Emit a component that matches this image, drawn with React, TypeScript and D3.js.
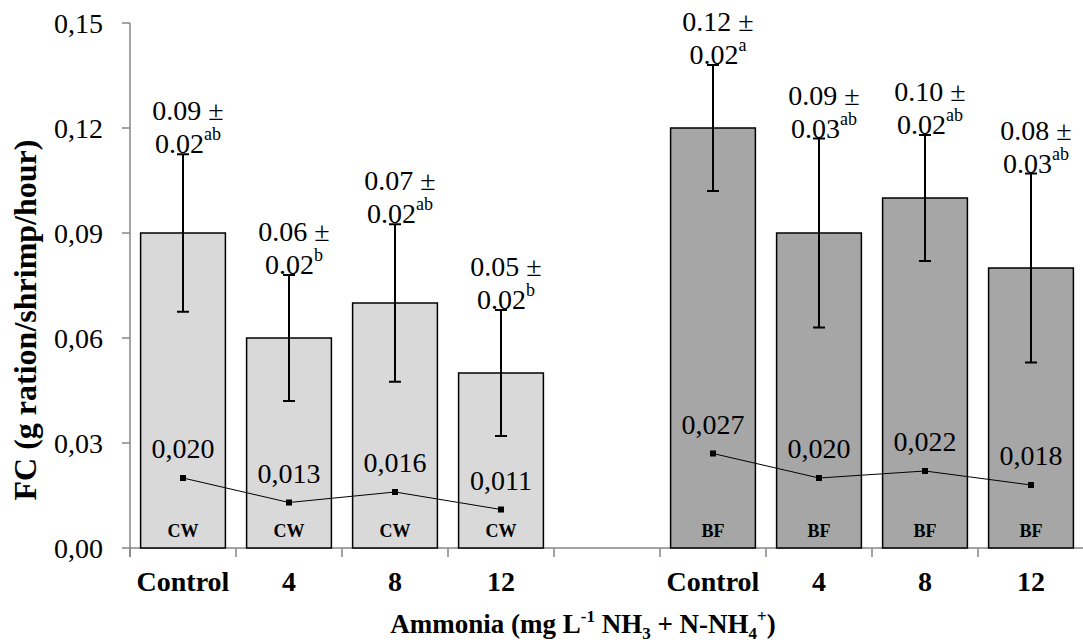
import React from 'react';
import * as d3 from 'd3';

const groups = ['CW', 'BF'];
const doses = ['Control', '4', '8', '12'];
const fcMean = { CW: [0.09, 0.06, 0.07, 0.05], BF: [0.12, 0.09, 0.1, 0.08] };
const fcErr = { CW: [0.0225, 0.018, 0.0225, 0.018], BF: [0.018, 0.027, 0.018, 0.027] };
const sdText = { CW: ['0.02', '0.02', '0.02', '0.02'], BF: ['0.02', '0.03', '0.02', '0.03'] };
const letters = { CW: ['ab', 'b', 'ab', 'b'], BF: ['a', 'ab', 'ab', 'ab'] };
const lineVals = { CW: [0.02, 0.013, 0.016, 0.011], BF: [0.027, 0.02, 0.022, 0.018] };
const yTicks = [0, 0.03, 0.06, 0.09, 0.12, 0.15];

const fills = { CW: '#d9d9d9', BF: '#a6a6a6' };
const FONT = "'Liberation Serif', 'Times New Roman', serif";

const W = 1083;
const H = 643;
const left = 130;
const right = 1084;
const top = 23;
const bottom = 548;

// 9 slots: 4 CW, empty gap, 4 BF
const slots = [...doses.map(d => 'CW-' + d), 'gap', ...doses.map(d => 'BF-' + d)];

export default function App() {
  const x = d3.scaleBand<string>().domain(slots).range([left, right]).paddingInner(0.2).paddingOuter(0.1);
  const y = d3.scaleLinear().domain([0, 0.15]).range([bottom, top]);
  const step = x.step();
  const fmt = (v: number) => d3.format('.2f')(v).replace('.', ',');
  const fmt3 = (v: number) => d3.format('.3f')(v).replace('.', ',');
  const cx = (key: string) => (x(key) as number) + x.bandwidth() / 2;

  return (
    <svg width={W} height={H} style={{ position: 'absolute', left: 0, top: 0, background: '#fff', fontFamily: FONT }}>
      {/* y axis */}
      <line x1={left} x2={left} y1={top} y2={bottom + 9} stroke="#868686" strokeWidth={1.5} />
      {yTicks.map(t => (
        <g key={t}>
          <line x1={left - 8} x2={left} y1={y(t)} y2={y(t)} stroke="#868686" strokeWidth={1.5} />
          <text x={103} y={y(t)} dy="0.35em" textAnchor="end" fontSize={28}>{fmt(t)}</text>
        </g>
      ))}
      {/* x axis */}
      <line x1={left} x2={W} y1={bottom} y2={bottom} stroke="#868686" strokeWidth={1.5} />
      {d3.range(slots.length + 1).map(i => (
        <line key={i} x1={left + i * step} x2={left + i * step} y1={bottom} y2={bottom + 9} stroke="#868686" strokeWidth={1.5} />
      ))}

      {groups.map(g => doses.map((d, i) => {
        const key = g + '-' + d;
        const m = fcMean[g][i];
        const e = fcErr[g][i];
        const c = cx(key);
        const yTop = y(m + e);
        return (
          <g key={key}>
            <rect x={x(key)} y={y(m)} width={x.bandwidth()} height={bottom - y(m)} fill={fills[g]} stroke="#000" strokeWidth={1.5} />
            <line x1={c} x2={c} y1={y(m + e)} y2={y(m - e)} stroke="#000" strokeWidth={2} />
            <line x1={c - 6} x2={c + 6} y1={y(m + e)} y2={y(m + e)} stroke="#000" strokeWidth={2} />
            <line x1={c - 6} x2={c + 6} y1={y(m - e)} y2={y(m - e)} stroke="#000" strokeWidth={2} />
            <text x={c + 5} y={yTop - 34} textAnchor="middle" fontSize={28}>{d3.format('.2f')(m) + ' \u00b1'}</text>
            <text x={c + 5} y={yTop - 1} textAnchor="middle" fontSize={28}>
              {sdText[g][i]}
              <tspan fontSize={18} dy={-13}>{letters[g][i]}</tspan>
            </text>
            <text x={c} y={537} textAnchor="middle" fontSize={18} fontWeight="bold">{g}</text>
            <text x={c} y={591} textAnchor="middle" fontSize={28} fontWeight="bold">{d}</text>
          </g>
        );
      }))}

      {groups.map(g => {
        const pts = lineVals[g].map((v, i) => [cx(g + '-' + doses[i]), y(v)] as [number, number]);
        return (
          <g key={'line-' + g}>
            <path d={d3.line()(pts) as string} fill="none" stroke="#000" strokeWidth={1} />
            {pts.map((p, i) => (
              <g key={i}>
                <rect x={p[0] - 3} y={p[1] - 3} width={6} height={6} fill="#000" />
                <text x={p[0]} y={p[1] - 20} textAnchor="middle" fontSize={28}>{fmt3(lineVals[g][i])}</text>
              </g>
            ))}
          </g>
        );
      })}

      {/* axis titles */}
      <text x={583} y={633} textAnchor="middle" fontSize={27} fontWeight="bold">
        Ammonia (mg L<tspan fontSize={17} dy={-11}>-1</tspan>
        <tspan dy={11}> NH</tspan><tspan fontSize={17} dy={6}>3</tspan>
        <tspan dy={-6}> + N-NH</tspan><tspan fontSize={17} dy={6}>4</tspan><tspan fontSize={17} dy={-17}>+</tspan>
        <tspan dy={11}>)</tspan>
      </text>
      <text transform="translate(36,320) rotate(-90)" textAnchor="middle" fontSize={32} fontWeight="bold">
        FC (g ration/shrimp/hour)
      </text>
    </svg>
  );
}
